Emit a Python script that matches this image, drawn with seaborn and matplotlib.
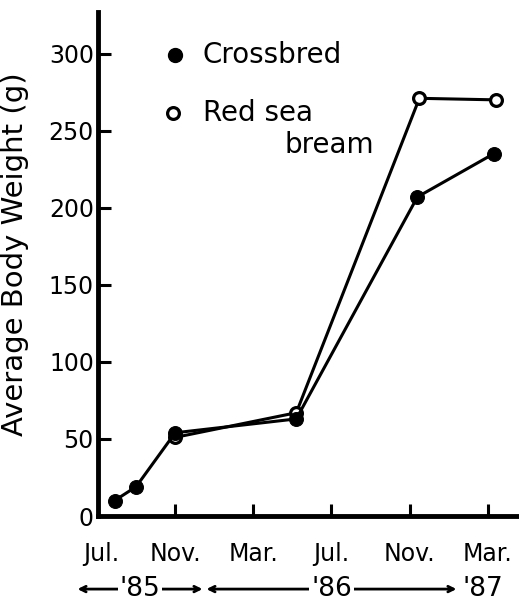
import pandas as pd
import numpy as np
import seaborn as sns
import matplotlib.pyplot as plt

# Months counted from Jul. 1985
cross_months = [0.9, 2.0, 4.0, 10.2, 16.4, 20.3]
cross_weight = [10, 19, 54, 63, 207, 235]
bream_months = [4.0, 10.2, 16.5, 20.4]
bream_weight = [51, 67, 271, 270]

tick_months = [0.2, 4, 8, 12, 16, 20]
tick_labels = ['Jul.', 'Nov.', 'Mar.', 'Jul.', 'Nov.', 'Mar.']
y_ticks = [0, 50, 100, 150, 200, 250, 300]

# Year spans (start month, end month, label)
year_spans = [(-1.0, 5.4, "'85"), (5.6, 18.4, "'86"), (18.6, 20.9, "'87")]

sns.set_style("ticks")
plt.rcParams['font.family'] = ['DejaVu Sans']
plt.rcParams['text.color'] = 'black'
plt.rcParams['axes.labelcolor'] = 'black'

fig = plt.figure(figsize=(5.19, 6.04), dpi=100)
ax = fig.add_axes([98 / 519, 88 / 604, 1 - 98 / 519, 504 / 604])

cross = pd.DataFrame({'month': cross_months, 'weight': cross_weight})
bream = pd.DataFrame({'month': bream_months, 'weight': bream_weight})

# Red sea bream first, filled circles drawn on top
sns.lineplot(data=bream, x='month', y='weight', ax=ax, color='black',
             linewidth=2.2, marker='o', markersize=8.5,
             markerfacecolor='white', markeredgecolor='black',
             markeredgewidth=2.3)
sns.lineplot(data=cross, x='month', y='weight', ax=ax, color='black',
             linewidth=2.2, marker='o', markersize=10,
             markerfacecolor='black', markeredgecolor='black')

ax.set_xlim(0.05, 21.6)
ax.set_ylim(0, 327)
ax.set_xticks(tick_months)
ax.set_xticklabels(tick_labels)
ax.set_yticks(y_ticks)
ax.xaxis.get_major_ticks()[0].tick1line.set_visible(False)

ax.tick_params(direction='in', length=9, width=2.2, labelsize=17,
               colors='black')
ax.tick_params(axis='x', pad=19)
ax.tick_params(axis='y', pad=3)

for side in ['top', 'right']:
    ax.spines[side].set_visible(False)
for side in ['left', 'bottom']:
    ax.spines[side].set_linewidth(3.5)
    ax.spines[side].set_color('black')

ax.set_xlabel('')
ax.set_ylabel('Average Body Weight (g)', fontsize=21, color='black')
ax.yaxis.set_label_coords(-0.165, 0.52)

# Year arrows below month labels
trans = ax.get_xaxis_transform()
for start, end, label in year_spans:
    ax.annotate('', xy=(start, -0.145), xytext=(end, -0.145),
                xycoords=trans, textcoords=trans, annotation_clip=False,
                arrowprops=dict(arrowstyle='<->', lw=2, color='black',
                                shrinkA=0, shrinkB=0))
    ax.text((start + end) / 2, -0.145, label, transform=trans,
            ha='center', va='center', fontsize=19,
            bbox=dict(facecolor='white', edgecolor='none', pad=1.5),
            clip_on=False)

# Hand-made legend
ax.plot([0.183], [0.915], 'o', transform=ax.transAxes, color='black',
        markersize=10, clip_on=False)
ax.plot([0.178], [0.80], 'o', transform=ax.transAxes, markersize=8.5,
        markerfacecolor='white', markeredgecolor='black',
        markeredgewidth=2.3, clip_on=False)
ax.text(0.249, 0.915, 'Crossbred', transform=ax.transAxes, fontsize=20,
        va='center', ha='left')
ax.text(0.249, 0.80, 'Red sea', transform=ax.transAxes, fontsize=20,
        va='center', ha='left')
ax.text(0.444, 0.736, 'bream', transform=ax.transAxes, fontsize=20,
        va='center', ha='left')

plt.savefig('out.png', dpi=100)
